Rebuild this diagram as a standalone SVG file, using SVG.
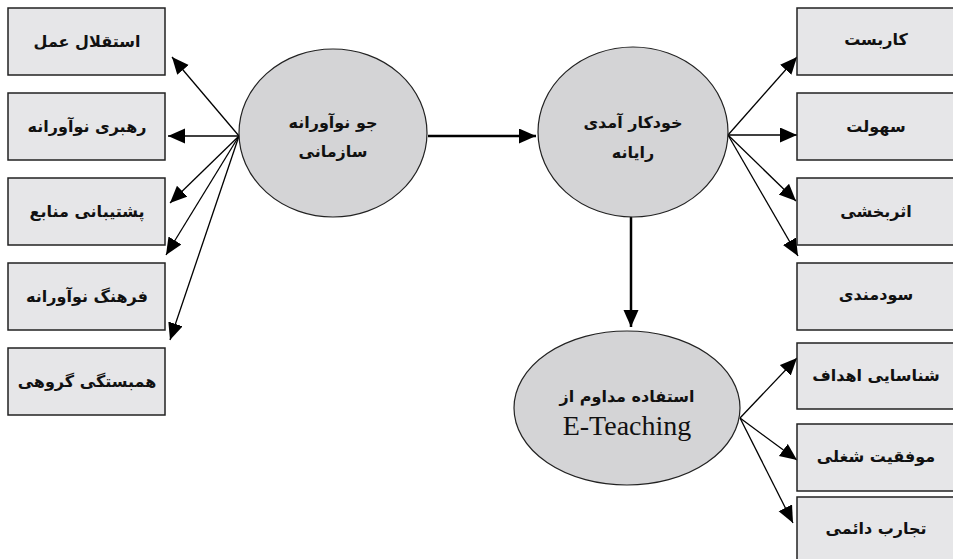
<svg xmlns="http://www.w3.org/2000/svg" width="953" height="559" viewBox="0 0 953 559">
<defs>
<marker id="ah" markerUnits="userSpaceOnUse" markerWidth="18" markerHeight="16" refX="17" refY="7.5" orient="auto">
<path d="M0,0 L17,7.5 L0,15 z" fill="#000"/>
</marker>
<style>
.box{fill:#e6e6e8;stroke:#222;stroke-width:1.5}
.ell{fill:#d4d4d6;stroke:#222;stroke-width:1.2}
.t{font-family:"DejaVu Sans","Noto Sans",sans-serif;font-weight:bold;font-size:16px;fill:#111;text-anchor:middle;direction:rtl}
.en{font-family:"Liberation Serif",serif;font-size:28px;fill:#111;text-anchor:middle}
.c{stroke:#000;stroke-width:1.3;fill:none;marker-end:url(#ah)}
.cb{stroke:#000;stroke-width:2.5;fill:none;marker-end:url(#ah)}
</style>
</defs>
<rect width="953" height="559" fill="#fff"/>
<g id="connectors">
<line class="c" x1="239" y1="136" x2="172" y2="57"/>
<line class="c" x1="239" y1="136" x2="168" y2="136"/>
<line class="c" x1="239" y1="136" x2="170" y2="203"/>
<line class="c" x1="239" y1="136" x2="166" y2="255"/>
<line class="c" x1="239" y1="136" x2="170" y2="340"/>
<line class="cb" x1="428" y1="136" x2="536" y2="136"/>
<line class="cb" x1="631" y1="217" x2="631" y2="327"/>
<line class="c" x1="728" y1="135" x2="797" y2="57"/>
<line class="c" x1="728" y1="135" x2="797" y2="135"/>
<line class="c" x1="728" y1="135" x2="796" y2="201"/>
<line class="c" x1="728" y1="135" x2="798" y2="256"/>
<line class="c" x1="740" y1="418" x2="797" y2="358"/>
<line class="c" x1="740" y1="418" x2="797" y2="460"/>
<line class="c" x1="740" y1="418" x2="793" y2="523"/>
</g>
<g id="n-l1"><rect class="box" x="8" y="8" width="157" height="67"/><text class="t" x="87" y="47">استقلال عمل</text></g>
<g id="n-l2"><rect class="box" x="8" y="93" width="157" height="67"/><text class="t" x="87" y="132">رهبری نوآورانه</text></g>
<g id="n-l3"><rect class="box" x="8" y="178" width="157" height="67"/><text class="t" x="87" y="217">پشتیبانی منابع</text></g>
<g id="n-l4"><rect class="box" x="8" y="263" width="157" height="67"/><text class="t" x="87" y="302">فرهنگ نوآورانه</text></g>
<g id="n-l5"><rect class="box" x="8" y="348" width="157" height="67"/><text class="t" x="87" y="387">همبستگی گروهی</text></g>
<g id="n-e1"><ellipse class="ell" cx="333" cy="133" rx="94" ry="84"/><text class="t" x="333" y="128">جو نوآورانه</text><text class="t" x="333" y="157">سازمانی</text></g>
<g id="n-e2"><ellipse class="ell" cx="633" cy="132" rx="95" ry="85"/><text class="t" x="633" y="128">خودکار آمدی</text><text class="t" x="633" y="158">رایانه</text></g>
<g id="n-e3"><ellipse class="ell" cx="627" cy="408" rx="113" ry="77"/><text class="t" x="627" y="402">استفاده مداوم از</text><text class="en" x="627" y="435">E-Teaching</text></g>
<g id="n-r1"><rect class="box" x="797" y="8" width="160" height="67"/><text class="t" x="876" y="45">کاربست</text></g>
<g id="n-r2"><rect class="box" x="797" y="93" width="160" height="67"/><text class="t" x="876" y="132">سهولت</text></g>
<g id="n-r3"><rect class="box" x="797" y="178" width="160" height="67"/><text class="t" x="876" y="217">اثربخشی</text></g>
<g id="n-r4"><rect class="box" x="797" y="263" width="160" height="67"/><text class="t" x="876" y="300">سودمندی</text></g>
<g id="n-r5"><rect class="box" x="797" y="343" width="160" height="66"/><text class="t" x="876" y="381">شناسایی اهداف</text></g>
<g id="n-r6"><rect class="box" x="797" y="424" width="160" height="67"/><text class="t" x="876" y="462">موفقیت شغلی</text></g>
<g id="n-r7"><rect class="box" x="797" y="497" width="160" height="70"/><text class="t" x="876" y="534">تجارب دائمی</text></g>
</svg>
